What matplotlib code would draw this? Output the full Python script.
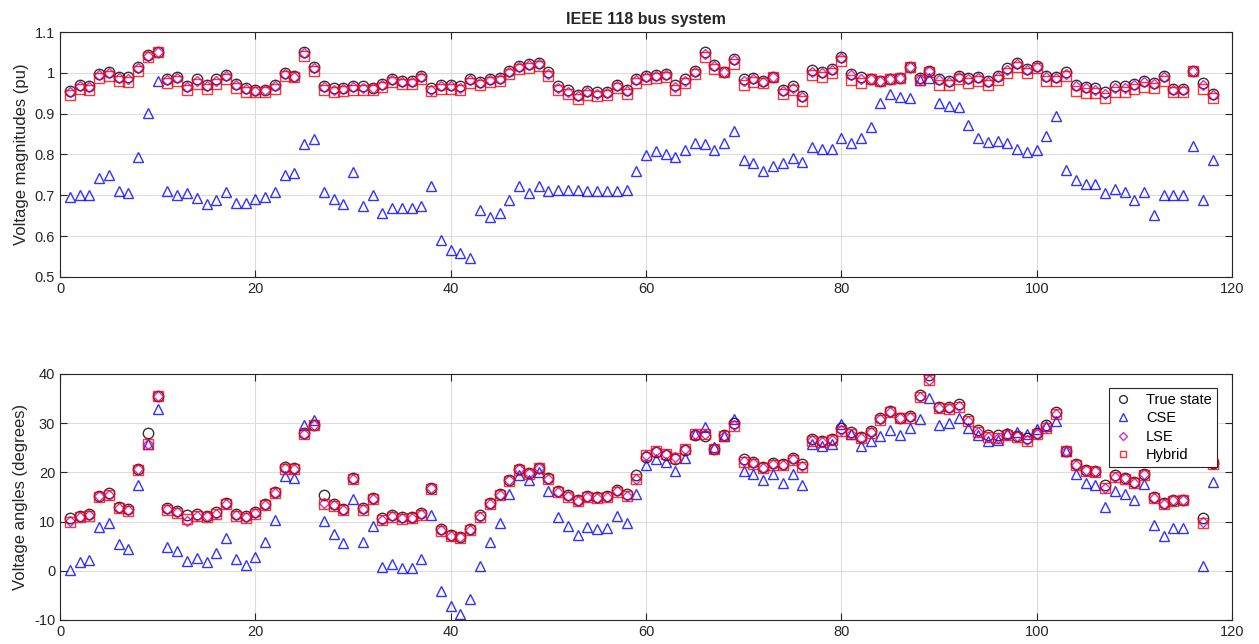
import numpy as np
import matplotlib
matplotlib.use('Agg')
from matplotlib import pyplot as plt

plt.rcParams['font.family'] = ['Liberation Sans', 'DejaVu Sans']
plt.rcParams['axes.unicode_minus'] = False

bus = np.arange(1, 119)

# voltage magnitudes (pu)
v_true = [0.955, 0.971, 0.968, 0.998, 1.002, 0.990, 0.989, 1.015, 1.043, 1.050,
          0.985, 0.990, 0.968, 0.984, 0.970, 0.984, 0.995, 0.973, 0.963, 0.958,
          0.959, 0.970, 1.000, 0.992, 1.050, 1.015, 0.968, 0.962, 0.963, 0.968,
          0.967, 0.964, 0.972, 0.986, 0.981, 0.980, 0.992, 0.962, 0.970, 0.970,
          0.967, 0.985, 0.978, 0.985, 0.987, 1.005, 1.017, 1.021, 1.025, 1.001,
          0.967, 0.957, 0.946, 0.955, 0.952, 0.954, 0.971, 0.959, 0.985, 0.993,
          0.995, 0.998, 0.969, 0.984, 1.005, 1.050, 1.020, 1.003, 1.035, 0.984,
          0.987, 0.980, 0.991, 0.958, 0.967, 0.943, 1.006, 1.003, 1.009, 1.040,
          0.997, 0.989, 0.985, 0.980, 0.985, 0.987, 1.015, 0.987, 1.005, 0.985,
          0.980, 0.993, 0.987, 0.991, 0.981, 0.993, 1.011, 1.024, 1.010, 1.017,
          0.993, 0.991, 1.001, 0.971, 0.965, 0.962, 0.952, 0.967, 0.967, 0.973,
          0.980, 0.975, 0.993, 0.960, 0.960, 1.005, 0.974, 0.949]
v_cse = [0.697, 0.702, 0.702, 0.743, 0.750, 0.710, 0.705, 0.794, 0.901, 0.979,
         0.710, 0.702, 0.705, 0.694, 0.678, 0.688, 0.708, 0.680, 0.680, 0.692,
         0.697, 0.708, 0.749, 0.754, 0.825, 0.838, 0.708, 0.690, 0.678, 0.757,
         0.675, 0.700, 0.656, 0.670, 0.669, 0.669, 0.674, 0.724, 0.591, 0.566,
         0.558, 0.547, 0.664, 0.648, 0.657, 0.688, 0.724, 0.705, 0.724, 0.710,
         0.712, 0.712, 0.712, 0.710, 0.710, 0.710, 0.710, 0.712, 0.759, 0.798,
         0.808, 0.800, 0.794, 0.811, 0.827, 0.825, 0.811, 0.827, 0.857, 0.786,
         0.778, 0.759, 0.773, 0.778, 0.792, 0.781, 0.819, 0.814, 0.814, 0.841,
         0.827, 0.841, 0.868, 0.925, 0.947, 0.941, 0.939, 0.982, 0.988, 0.925,
         0.920, 0.917, 0.873, 0.841, 0.830, 0.832, 0.827, 0.814, 0.806, 0.811,
         0.845, 0.894, 0.762, 0.737, 0.727, 0.727, 0.705, 0.716, 0.708, 0.688,
         0.708, 0.653, 0.700, 0.702, 0.702, 0.822, 0.688, 0.786]
v_lse = [0.952, 0.968, 0.965, 0.995, 0.999, 0.987, 0.986, 1.012, 1.042, 1.050,
         0.982, 0.987, 0.965, 0.981, 0.967, 0.981, 0.992, 0.970, 0.960, 0.956,
         0.957, 0.967, 0.997, 0.991, 1.048, 1.012, 0.965, 0.959, 0.960, 0.965,
         0.964, 0.962, 0.969, 0.983, 0.978, 0.977, 0.989, 0.959, 0.967, 0.967,
         0.964, 0.982, 0.975, 0.982, 0.984, 1.002, 1.014, 1.018, 1.022, 0.998,
         0.964, 0.954, 0.943, 0.952, 0.949, 0.951, 0.968, 0.956, 0.982, 0.990,
         0.992, 0.995, 0.966, 0.981, 1.002, 1.047, 1.017, 1.002, 1.031, 0.981,
         0.984, 0.978, 0.991, 0.955, 0.964, 0.940, 1.003, 1.000, 1.006, 1.036,
         0.994, 0.986, 0.985, 0.980, 0.985, 0.987, 1.015, 0.985, 1.004, 0.982,
         0.977, 0.990, 0.984, 0.988, 0.978, 0.990, 1.008, 1.021, 1.007, 1.015,
         0.990, 0.988, 0.998, 0.968, 0.962, 0.959, 0.949, 0.964, 0.964, 0.970,
         0.977, 0.972, 0.990, 0.957, 0.957, 1.005, 0.971, 0.946]
v_hyb = [0.945, 0.960, 0.957, 0.988, 0.992, 0.979, 0.978, 1.004, 1.040, 1.050,
         0.975, 0.980, 0.957, 0.973, 0.960, 0.973, 0.985, 0.963, 0.954, 0.953,
         0.954, 0.960, 0.992, 0.989, 1.042, 1.004, 0.959, 0.952, 0.955, 0.958,
         0.957, 0.958, 0.965, 0.978, 0.973, 0.972, 0.984, 0.955, 0.961, 0.961,
         0.958, 0.976, 0.970, 0.977, 0.979, 0.997, 1.009, 1.013, 1.017, 0.993,
         0.959, 0.948, 0.936, 0.946, 0.943, 0.945, 0.962, 0.948, 0.974, 0.985,
         0.987, 0.990, 0.959, 0.976, 0.997, 1.040, 1.010, 1.001, 1.021, 0.970,
         0.977, 0.974, 0.991, 0.947, 0.957, 0.932, 0.994, 0.991, 0.999, 1.028,
         0.983, 0.976, 0.984, 0.980, 0.985, 0.987, 1.015, 0.982, 1.001, 0.971,
         0.970, 0.985, 0.975, 0.979, 0.969, 0.983, 1.000, 1.014, 1.000, 1.012,
         0.979, 0.981, 0.993, 0.955, 0.951, 0.950, 0.939, 0.954, 0.954, 0.960,
         0.966, 0.962, 0.979, 0.952, 0.952, 1.005, 0.961, 0.938]

# voltage angles (degrees)
a_true = [10.67, 11.22, 11.56, 15.28, 15.73, 13.00, 12.56, 20.77, 28.02, 35.61,
          12.72, 12.20, 11.35, 11.50, 11.23, 11.91, 13.74, 11.53, 11.05, 11.93,
          13.52, 16.08, 21.00, 20.89, 27.93, 29.71, 15.35, 13.62, 12.63, 18.79,
          12.75, 14.80, 10.63, 11.30, 10.87, 10.87, 11.77, 16.91, 8.41, 7.35,
          6.92, 8.53, 11.28, 13.82, 15.67, 18.51, 20.73, 19.93, 20.94, 18.90,
          16.28, 15.32, 14.35, 15.26, 14.97, 15.16, 16.36, 15.51, 19.37, 23.15,
          24.04, 23.43, 22.75, 24.52, 27.65, 27.48, 24.84, 27.55, 30.00, 22.62,
          22.21, 21.10, 21.99, 21.65, 22.92, 21.79, 26.75, 26.45, 26.75, 28.99,
          28.15, 27.27, 28.46, 30.99, 32.51, 31.14, 31.40, 35.64, 39.69, 33.29,
          33.31, 33.80, 30.79, 28.64, 27.67, 27.51, 27.88, 27.40, 27.04, 28.03,
          29.61, 32.30, 24.44, 21.69, 20.57, 20.32, 17.53, 19.38, 18.93, 18.09,
          19.74, 14.99, 13.74, 14.46, 14.46, 27.12, 10.67, 21.92]
a_cse = [0.2, 1.7, 2.1, 8.8, 9.8, 5.5, 4.5, 17.5, 25.8, 32.9,
         4.8, 4.1, 1.9, 2.6, 1.7, 3.6, 6.6, 2.3, 1.2, 2.8,
         5.8, 10.4, 19.2, 18.8, 29.7, 30.7, 10.2, 7.5, 5.7, 14.6,
         5.9, 9.1, 0.7, 1.3, 0.5, 0.5, 2.3, 11.4, -4.2, -7.2,
         -8.8, -5.7, 0.9, 5.9, 9.8, 15.6, 19.4, 18.5, 20.1, 16.3,
         10.9, 9.1, 7.3, 8.9, 8.5, 8.7, 11.2, 9.7, 15.6, 21.5,
         22.8, 22.1, 20.2, 22.9, 27.9, 29.2, 25.1, 27.3, 30.9, 20.2,
         19.7, 18.4, 19.7, 17.8, 19.7, 17.5, 25.8, 25.3, 25.8, 29.9,
         27.8, 25.4, 26.3, 27.4, 28.7, 27.6, 29.0, 30.8, 35.1, 29.7,
         30.0, 31.0, 29.0, 27.6, 26.3, 26.6, 28.1, 28.3, 27.8, 28.8,
         29.5, 30.4, 24.3, 19.6, 17.8, 17.5, 12.9, 16.3, 15.6, 14.4,
         17.6, 9.3, 7.0, 8.7, 8.7, 26.0, 1.0, 18.0]
a_lse = [10.2, 11.0, 11.3, 15.1, 15.5, 12.8, 12.3, 20.6, 25.8, 35.5,
         12.5, 11.9, 10.2, 11.2, 11.1, 11.6, 13.6, 11.3, 10.9, 11.7,
         13.4, 15.9, 20.8, 20.7, 27.8, 29.6, 13.7, 13.3, 12.4, 18.7,
         12.5, 14.6, 10.4, 11.1, 10.7, 10.8, 11.5, 16.8, 8.2, 7.1,
         6.8, 8.3, 11.0, 13.6, 15.5, 18.4, 20.6, 19.8, 20.9, 18.7,
         16.1, 15.1, 14.2, 15.0, 14.8, 15.0, 16.2, 15.2, 18.7, 23.6,
         24.4, 23.8, 23.1, 24.8, 27.8, 27.8, 24.8, 27.4, 29.6, 22.3,
         21.9, 20.9, 21.7, 21.5, 22.7, 21.2, 26.5, 26.2, 26.6, 28.6,
         27.9, 27.0, 28.2, 30.8, 32.3, 31.1, 31.2, 35.4, 38.8, 33.1,
         33.0, 33.4, 30.5, 28.3, 27.2, 27.0, 27.6, 27.3, 26.5, 27.9,
         29.2, 31.9, 24.4, 21.5, 20.4, 20.2, 16.9, 19.1, 18.8, 17.9,
         19.6, 14.8, 13.6, 14.3, 14.4, 27.0, 9.9, 21.8]
a_hyb = [10.0, 11.0, 11.2, 15.0, 15.5, 12.7, 12.2, 20.5, 25.8, 35.5,
         12.4, 11.8, 10.5, 11.1, 11.0, 11.5, 13.5, 11.2, 10.8, 11.6,
         13.3, 15.8, 20.7, 20.6, 27.8, 29.6, 13.5, 13.2, 12.3, 18.6,
         12.4, 14.5, 10.3, 11.0, 10.6, 10.7, 11.4, 16.7, 8.1, 7.0,
         6.7, 8.2, 10.9, 13.5, 15.4, 18.3, 20.5, 19.7, 20.8, 18.6,
         16.0, 15.0, 14.1, 14.9, 14.7, 14.9, 16.1, 15.1, 18.6, 23.5,
         24.3, 23.7, 23.0, 24.7, 27.7, 27.7, 24.7, 27.3, 29.5, 22.2,
         21.8, 20.8, 21.6, 21.4, 22.6, 21.1, 26.4, 26.1, 26.5, 28.5,
         27.8, 26.9, 28.1, 30.7, 32.2, 31.0, 31.1, 35.3, 38.7, 33.0,
         32.9, 33.3, 30.4, 28.2, 27.1, 26.9, 27.5, 27.2, 26.4, 27.8,
         29.1, 31.8, 24.3, 21.4, 20.3, 20.1, 16.8, 19.0, 18.7, 17.8,
         19.5, 14.7, 13.5, 14.2, 14.3, 26.9, 9.7, 21.7]

fig = plt.figure(figsize=(12.59, 6.44), dpi=100)
ax1 = fig.add_axes([0.0477, 0.5699, 0.9309, 0.3804])
ax2 = fig.add_axes([0.0477, 0.0373, 0.9309, 0.3820])

mk = dict(linestyle='none', markerfacecolor='none', markeredgewidth=1.0, alpha=0.8)

for ax, yt, yc, yl, yh in [(ax1, v_true, v_cse, v_lse, v_hyb), (ax2, a_true, a_cse, a_lse, a_hyb)]:
    ax.plot(bus, yt, marker='o', color='k', markersize=7.5, label='True state', **mk)
    ax.plot(bus, yc, marker='^', color='b', markersize=7.5, label='CSE', **mk)
    ax.plot(bus, yl, marker='D', color='m', markersize=5.5, label='LSE', **mk)
    ax.plot(bus, yh, marker='s', color='r', markersize=6.5, label='Hybrid', **mk)
    ax.set_xlim(0, 120)
    ax.set_xticks([0, 20, 40, 60, 80, 100, 120])
    ax.grid(True, color='#dcdcdc', linewidth=0.8)
    ax.set_axisbelow(True)
    ax.tick_params(direction='in', top=True, right=True, labelsize=10.5,
                   color='#262626', labelcolor='#262626', length=5)
    for s in ax.spines.values():
        s.set_color('#262626')
        s.set_linewidth(0.8)

ax1.set_ylim(0.5, 1.1)
ax1.set_yticks([0.5, 0.6, 0.7, 0.8, 0.9, 1.0, 1.1])
ax1.set_yticklabels(['0.5', '0.6', '0.7', '0.8', '0.9', '1', '1.1'])
ax1.set_ylabel('Voltage magnitudes (pu)', fontsize=12, color='#262626')
ax1.set_title('IEEE 118 bus system', fontsize=11.5, fontweight='bold', color='#262626', pad=6)

ax2.set_ylim(-10, 40)
ax2.set_yticks([-10, 0, 10, 20, 30, 40])
ax2.set_ylabel('Voltage angles (degrees)', fontsize=12, color='#262626')

leg = ax2.legend(loc='upper right', bbox_to_anchor=(0.987, 0.943), borderaxespad=0,
                 fontsize=10.5, fancybox=False, framealpha=1, edgecolor='#262626',
                 markerscale=0.75, handletextpad=0.9, borderpad=0.35,
                 labelspacing=0.3, handlelength=1.3)
leg.get_frame().set_linewidth(0.8)

fig.savefig('out.png', dpi=100)
